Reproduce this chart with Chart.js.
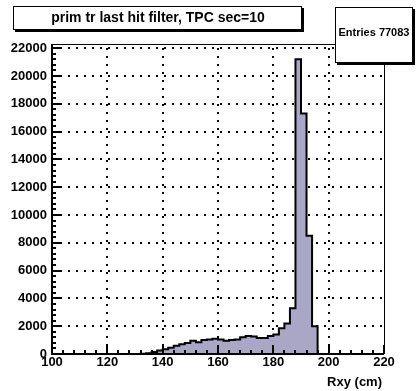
<!DOCTYPE html>
<html>
<head>
<meta charset="utf-8">
<script src="https://cdn.jsdelivr.net/npm/chart.js@4.4.1/dist/chart.umd.min.js"></script>
<style>
  body { margin: 0; background: #fff; }
  #wrap { width: 417px; height: 391px; position: relative; }
</style>
</head>
<body>
<div id="wrap"><canvas id="histo"></canvas></div>
<script>
// histogram: bins of 2 cm from 100 to 220
const xMin = 100;
const xMax = 220;
const binWidth = 2;
const counts = [
    0, 0, 0, 0, 0, 0, 0, 0, 0, 0,            // 100-120
    0, 0, 0, 0, 0, 0, 20, 60, 150, 250,      // 120-140
    350, 450, 600, 700, 800, 950, 850, 1000, 1050, 1100, // 140-160
    1050, 950, 1000, 1050, 1200, 1300, 1250, 1150, 1150, 1300, // 160-180
    1400, 1850, 2200, 3300, 21200, 17300, 8500, 2000, 0, 0, // 180-200
    0, 0, 0, 0, 0, 0, 0, 0, 0, 0             // 200-220
];
const yTicks = [0, 2000, 4000, 6000, 8000, 10000, 12000, 14000, 16000, 18000, 20000, 22000];
const xTicks = [100, 120, 140, 160, 180, 200, 220];
const titleText = "prim tr last hit filter, TPC sec=10";
const statsText = "Entries 77083";
const xTitle = "Rxy (cm)";

const points = counts.map((c, i) => ({ x: xMin + i * binWidth, y: c }));
points.push({ x: xMax, y: 0 });

const FONT = "Liberation Sans, Arial, Helvetica, sans-serif";

const rootStyle = {
    id: "rootStyle",
    beforeDatasetsDraw(chart) {
        const { ctx, chartArea: a, scales: { x, y } } = chart;
        ctx.save();
        ctx.strokeStyle = "#000";
        ctx.lineWidth = 2;
        ctx.setLineDash([2, 6]);
        xTicks.forEach(v => {
            if (v === xMin || v === xMax) return;
            const px = Math.round(x.getPixelForValue(v));
            ctx.beginPath();
            ctx.moveTo(px, a.bottom);
            ctx.lineTo(px, a.top);
            ctx.stroke();
        });
        yTicks.forEach(v => {
            if (v === 0) return;
            const py = Math.round(y.getPixelForValue(v));
            ctx.beginPath();
            ctx.moveTo(a.left, py);
            ctx.lineTo(a.right, py);
            ctx.stroke();
        });
        ctx.restore();
    },
    afterDatasetsDraw(chart) {
        const { ctx, chartArea: a, scales: { x, y } } = chart;
        ctx.save();
        ctx.strokeStyle = "#000";
        // thin frame top/right
        ctx.lineWidth = 1;
        ctx.beginPath();
        ctx.moveTo(a.left, a.top + 0.5);
        ctx.lineTo(a.right + 0.5, a.top + 0.5);
        ctx.lineTo(a.right + 0.5, a.bottom);
        ctx.stroke();
        // axes
        ctx.lineWidth = 2;
        ctx.beginPath();
        ctx.moveTo(a.left, a.top);
        ctx.lineTo(a.left, a.bottom);
        ctx.lineTo(a.right, a.bottom);
        ctx.stroke();
        // y ticks
        for (let v = 0; v <= y.max; v += 400) {
            const py = Math.round(y.getPixelForValue(v));
            const len = v % 2000 === 0 ? 8 : 4;
            ctx.beginPath();
            ctx.moveTo(a.left, py);
            ctx.lineTo(a.left + len, py);
            ctx.stroke();
        }
        // x ticks
        for (let v = xMin; v <= xMax; v += 4) {
            const px = Math.round(x.getPixelForValue(v));
            const len = (v - xMin) % 20 === 0 ? 9 : 4;
            ctx.beginPath();
            ctx.moveTo(px, a.bottom);
            ctx.lineTo(px, a.bottom - len);
            ctx.stroke();
        }
        ctx.restore();
    },
    afterDraw(chart) {
        const { ctx, chartArea: a } = chart;
        ctx.save();
        // title box
        ctx.fillStyle = "#000";
        ctx.fillRect(15, 8, 289, 24);
        ctx.fillStyle = "#fff";
        ctx.fillRect(13, 6, 289, 24);
        ctx.strokeStyle = "#000";
        ctx.lineWidth = 1;
        ctx.strokeRect(13.5, 6.5, 288, 23);
        ctx.fillStyle = "#000";
        ctx.font = "bold 14px " + FONT;
        ctx.textAlign = "center";
        ctx.textBaseline = "middle";
        ctx.fillText(titleText, 158, 18.5);
        // stats box
        ctx.fillStyle = "#000";
        ctx.fillRect(337, 9, 78, 56);
        ctx.fillStyle = "#fff";
        ctx.fillRect(335, 7, 78, 56);
        ctx.strokeRect(335.5, 7.5, 77, 55);
        ctx.fillStyle = "#000";
        ctx.font = "bold 11px " + FONT;
        ctx.fillText(statsText, 374, 33);
        // x title
        ctx.font = "bold 13px " + FONT;
        ctx.textAlign = "right";
        ctx.fillText(xTitle, a.right - 2, 382);
        ctx.restore();
    }
};

new Chart(document.getElementById("histo"), {
    type: "line",
    data: {
        datasets: [{
            data: points,
            stepped: "before",
            fill: "origin",
            backgroundColor: "#aaa6c6",
            borderColor: "#000",
            borderWidth: 2,
            pointRadius: 0,
        }],
    },
    options: {
        responsive: true,
        maintainAspectRatio: false,
        animation: false,
        layout: { padding: { top: 44, right: 33, left: 0, bottom: 0 } },
        plugins: { legend: { display: false }, tooltip: { enabled: false } },
        scales: {
            x: {
                type: "linear",
                min: xMin,
                max: xMax,
                afterBuildTicks: s => { s.ticks = xTicks.map(v => ({ value: v })); },
                afterFit: s => { s.height = 37; },
                ticks: {
                    color: "#000",
                    font: { family: FONT, size: 13, weight: "bold" },
                    padding: 1,
                    maxRotation: 0,
                    callback: v => String(v),
                },
                grid: { display: false, drawTicks: false },
                border: { display: false },
            },
            y: {
                min: 0,
                max: 22300,
                afterBuildTicks: s => { s.ticks = yTicks.map(v => ({ value: v })); },
                afterFit: s => { s.width = 52; },
                ticks: {
                    color: "#000",
                    font: { family: FONT, size: 13, weight: "bold" },
                    padding: 5,
                    callback: v => String(v),
                },
                grid: { display: false, drawTicks: false },
                border: { display: false },
            },
        },
    },
    plugins: [rootStyle],
});
</script>
</body>
</html>
